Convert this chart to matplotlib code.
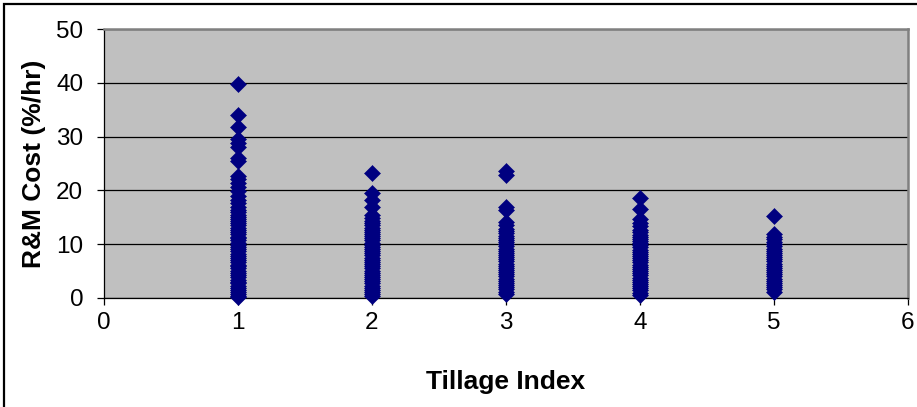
import matplotlib.pyplot as plt
from matplotlib.patches import Rectangle

plt.rcParams['font.family'] = ['Liberation Sans', 'DejaVu Sans']

# R&M cost (%/hr) observations grouped by tillage index
idx1 = [0.1, 0.4, 0.8, 1.2, 1.5, 1.9, 2.3, 2.7, 3.0, 3.4, 3.9, 4.3, 4.6, 5.0,
        5.5, 5.9, 6.2, 6.6, 7.1, 7.5, 7.8, 8.2, 8.7, 9.1, 9.5, 9.8, 10.3,
        10.7, 11.1, 11.4, 11.9, 12.3, 12.7, 13.0, 13.5, 13.9, 14.3, 14.6,
        15.1, 15.5, 15.9, 16.4, 17.0, 17.6, 18.3, 19.0, 19.8, 20.6, 21.3,
        22.1, 22.6, 25.4, 26.0, 28.1, 28.8, 29.6, 31.8, 34.0, 39.7]
idx2 = [0.3, 0.7, 1.1, 1.5, 1.9, 2.3, 2.7, 3.1, 3.5, 3.9, 4.3, 4.7, 5.1,
        5.5, 5.9, 6.3, 6.7, 7.1, 7.5, 7.9, 8.3, 8.7, 9.1, 9.5, 9.9, 10.3,
        10.7, 11.1, 11.5, 11.9, 12.3, 12.7, 13.1, 13.5, 13.9, 14.3, 14.8,
        15.4, 17.0, 18.3, 19.6, 23.3]
idx3 = [0.8, 1.2, 1.6, 2.0, 2.4, 2.8, 3.2, 3.6, 4.0, 4.4, 4.8, 5.2, 5.6,
        6.0, 6.4, 6.8, 7.2, 7.6, 8.0, 8.4, 8.8, 9.2, 9.6, 10.0, 10.4, 10.8,
        11.2, 11.6, 12.0, 12.4, 12.9, 13.5, 14.2, 16.3, 17.0, 22.9, 23.6]
idx4 = [0.6, 1.0, 1.4, 1.8, 2.2, 2.6, 3.0, 3.4, 3.8, 4.2, 4.6, 5.0, 5.4,
        5.8, 6.2, 6.6, 7.0, 7.4, 7.8, 8.2, 8.6, 9.0, 9.4, 9.8, 10.2, 10.6,
        11.0, 11.4, 11.8, 12.2, 12.7, 13.3, 14.0, 14.6, 16.6, 18.5]
idx5 = [1.2, 1.6, 2.0, 2.4, 2.8, 3.2, 3.6, 4.0, 4.4, 4.8, 5.2, 5.6, 6.0,
        6.4, 6.8, 7.2, 7.6, 8.0, 8.4, 8.8, 9.2, 9.6, 10.0, 10.4, 10.9,
        11.4, 11.9, 15.2]
groups = [idx1, idx2, idx3, idx4, idx5]

fig = plt.figure(figsize=(9.17, 4.07), dpi=100)
ax = fig.add_axes([104/917, 1 - 298/407, 804/917, 269/407])
ax.set_facecolor('#c0c0c0')

for i, vals in enumerate(groups, start=1):
    ax.plot([i]*len(vals), vals, linestyle='none', marker='D', markersize=8.4,
            color='#000080', markeredgewidth=0.4, clip_on=False, zorder=3)

ax.set_xlim(0, 6)
ax.set_ylim(0, 50)
ax.set_xticks(range(0, 7))
ax.set_yticks(range(0, 51, 10))
ax.yaxis.grid(True, color='black', linewidth=0.9)
ax.set_axisbelow(True)

for side in ['top', 'right']:
    ax.spines[side].set_color('#808080')
    ax.spines[side].set_linewidth(1.8)
for side in ['left', 'bottom']:
    ax.spines[side].set_color('black')
    ax.spines[side].set_linewidth(0.9)

ax.tick_params(axis='both', direction='out', length=5, width=0.9,
               labelsize=17.5, color='black')
ax.tick_params(axis='y', pad=10)
ax.tick_params(axis='x', pad=5)

ax.set_xlabel('Tillage Index', fontsize=19, fontweight='bold', labelpad=26)
ax.set_ylabel('R&M Cost (%/hr)', fontsize=19, fontweight='bold', labelpad=7)

# outer chart border
fig.patches.append(Rectangle((4/917, -0.1), 1.2, 1.1 - 4/407, transform=fig.transFigure,
                             fill=False, edgecolor='black', linewidth=1.6))

fig.savefig('out.png', dpi=100)
